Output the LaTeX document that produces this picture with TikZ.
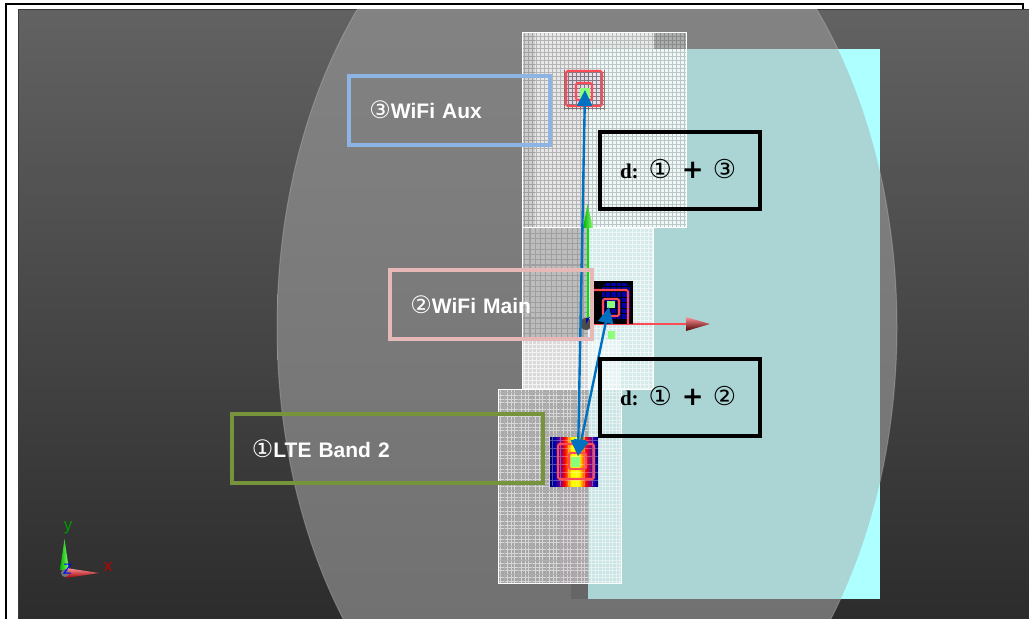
\documentclass[tikz,border=0pt]{standalone}
\usepackage{fontspec}
\setmainfont{Liberation Sans}
\newfontfamily\circfont{DejaVu Sans}
\newfontfamily\boxfont{Liberation Serif}
\usetikzlibrary{arrows.meta, positioning, calc}
\definecolor{FrameGray}{HTML}{3A3A3A}
\definecolor{ScreenTop}{HTML}{626262}
\definecolor{ScreenBottom}{HTML}{2C2C2C}
\definecolor{DomeTop}{HTML}{878787}
\definecolor{DomeBottom}{HTML}{6C6C6C}
\definecolor{BoardCyan}{HTML}{AEFFFF}
\definecolor{BoardTeal}{HTML}{ABD5D5}
\definecolor{ArrowBlue}{HTML}{0070C0}
\definecolor{RingRed}{HTML}{FF4B55}
\definecolor{SpotGreen}{HTML}{8CFF78}
\definecolor{AuxBlue}{HTML}{8EB4E3}
\definecolor{MainPink}{HTML}{E6B9B8}
\definecolor{BandGreen}{HTML}{77933C}
\newcommand{\circnum}[1]{{\fontsize{24bp}{24bp}\selectfont\circfont\mdseries #1}}
\newcommand{\distnum}[1]{{\fontsize{26bp}{26bp}\selectfont\circfont\mdseries #1}}
\newcommand{\distsum}[2]{\raisebox{3bp}{d:\hspace{10bp}\distnum{#1}\hspace{10bp}{\fontsize{26bp}{26bp}\selectfont\circfont\bfseries +}\hspace{9bp}\distnum{#2}}}
\pgfdeclarehorizontalshading{lteheat}{100bp}{
    color(0bp)=(black!60!blue); color(25bp)=(black!60!blue); color(30bp)=(blue!70!black);
    color(36bp)=(violet); color(40bp)=(red); color(44bp)=(orange); color(47bp)=(yellow);
    color(55bp)=(yellow); color(59bp)=(orange); color(62bp)=(red); color(67bp)=(violet);
    color(72bp)=(blue!70!black); color(75bp)=(black!60!blue); color(100bp)=(black!60!blue)}
\begin{document}
\begin{tikzpicture}[
    x=1bp, y=-1bp,
    font=\fontsize{21bp}{25bp}\selectfont\bfseries,
    labelbox/.style={draw, line width=4bp, text=white, align=left, inner xsep=20bp,
        inner ysep=0pt, minimum height=69bp, anchor=center},
    distbox/.style={draw=black, line width=4bp, text=black, align=left, inner xsep=20bp,
        inner ysep=0pt, minimum height=77bp, text width=120bp, anchor=center,
        font=\fontsize{21bp}{25bp}\selectfont\boxfont\bfseries},
    link/.style={{Triangle[length=16bp,width=15bp]}-{Triangle[length=16bp,width=15bp]},
        line width=2.4bp, ArrowBlue},
    ring/.style={draw=RingRed, line width=2.1bp, rounded corners=1.5bp},
    meshline/.style={line width=0.5bp},
]
\useasboundingbox (0,0) rectangle (1029,619);
\fill[white] (0,0) rectangle (1029,619);

% ---- marco exterior ----
\draw[black, line width=2bp] (6,619) -- (6,4) -- (1023,4) -- (1023,10);

% ---- pantalla ----
\shade[top color=ScreenTop, bottom color=ScreenBottom] (18,10) rectangle (1029,619);
\draw[FrameGray, line width=1bp] (18,619) -- (18,10) -- (1029,10);

% ---- cupula ----
\begin{scope}
    \clip (18,10) rectangle (1029,619);
    \shade[top color=DomeTop, bottom color=DomeBottom] (587,327) ellipse [x radius=310, y radius=473];
    \draw[white, opacity=0.2, line width=1bp] (587,327) ellipse [x radius=310, y radius=473];
\end{scope}

% ---- placa ----
\fill[BoardCyan] (588,49) rectangle (880,599);
\begin{scope}
    \clip (587,327) ellipse [x radius=310, y radius=473];
    \fill[BoardTeal] (588,49) rectangle (880,599);
\end{scope}
\fill[black!60] (571,583) rectangle (588,599);

% ---- mallas ----
% bloque inferior
\fill[white, opacity=0.36] (498,389) rectangle (621,583);
\draw[white, line width=0.4bp, opacity=0.55, xstep=3.5bp, ystep=3.5bp] (498,389) grid (621,583);
\draw[black, line width=0.8bp, opacity=0.18, xstep=14bp, ystep=14bp] (498,389) grid (588,583);
\draw[white, line width=0.8bp] (498,389) rectangle (621,583);
% bloque medio
\fill[white, opacity=0.5] (522,227) rectangle (653,389);
\fill[white, opacity=0.45] (522,340) rectangle (621,389);
\draw[black, line width=1.1bp, opacity=0.15, xstep=5.3bp, ystep=5.3bp] (522,227) grid (588,340);
\draw[white, meshline, opacity=0.6, xstep=4bp, ystep=4bp] (588,227) grid (653,389);
\draw[white, meshline, opacity=0.7, xstep=4bp, ystep=4bp] (522,340) grid (588,389);
\draw[white, line width=0.8bp] (522,227) rectangle (653,389);
% bloque superior
\fill[white, opacity=0.82] (522,32) rectangle (686,227);
\fill[black, opacity=0.1] (522,32) rectangle (535,227);
\draw[black, line width=0.7bp, opacity=0.22, xstep=4bp, ystep=4bp] (522,32) grid (588,227);
\draw[black!60!BoardTeal, line width=0.7bp, opacity=0.3, xstep=4bp, ystep=4bp] (588,32) grid (686,227);
\fill[black, opacity=0.25] (654,32) rectangle (686,49);
\draw[white, line width=0.8bp] (522,32) rectangle (686,227);

% ---- mapa LTE ----
\fill[violet!40, opacity=0.08] (560,486) rectangle (586,583);
\shade[shading=lteheat] (550,437) rectangle (598,486);
\draw[white, opacity=0.3, line width=0.8bp, xstep=8bp, ystep=8bp] (550,437) grid (598,486);
\draw[ring] (558,444) rectangle (594,479);
\draw[ring] (569,453) rectangle (586,469);
\fill[SpotGreen] (571,457) rectangle (580,467);

% ---- ejes ----
\draw[green!90!black, line width=2bp] (588,225) -- (588,324);
\shade[left color=green!70!black, right color=SpotGreen] (583,228) -- (587.5,204) -- (593,228) -- cycle;
\draw[RingRed, line width=1.4bp] (594,324) -- (690,324);
\shade[top color=RingRed!60!white, bottom color=black!70!red] (686,317) -- (710,324) -- (686,331) -- cycle;

% ---- mapa WiFi principal ----
\fill[black] (594,281) rectangle (633,324);
\fill[blue!65!black, rounded corners=6bp] (602,283) rectangle (630,320);
\draw[black, line width=0.8bp, xstep=5.5bp, ystep=5.5bp] (594,281) grid (633,324);
\draw[ring] (594,290) -- (628,290) -- (628,324);
\draw[ring] (603,299) rectangle (619,316);
\fill[SpotGreen] (607,301) rectangle (615,308);
\fill[SpotGreen] (608,331) rectangle (615,339);
\fill[black!70] (586,324) circle [radius=6];
\fill[blue!70!black] (586,318.5) arc [start angle=90, end angle=20, radius=5.5] -- (586,324) -- cycle;

% ---- mapa WiFi auxiliar ----
\fill[violet!25, opacity=0.4] (566,71) rectangle (602,106);
\draw[black, line width=0.7bp, opacity=0.35, xstep=4bp, ystep=4bp] (564,70) grid (604,110);
\fill[SpotGreen] (580,88) rectangle (590,100);
\draw[ring] (566,71) rectangle (602,106);
\draw[ring] (576,83) rectangle (592,100);

% ---- puntos de medida ----
\coordinate (lte) at (578,456);
\coordinate (wifimain) at (609,307);
\coordinate (wifiaux) at (585,90);
\draw[link] (lte) -- (wifiaux);
\draw[link] (lte) -- (wifimain);

% ---- etiquetas ----
\node[labelbox, draw=AuxBlue, text width=160.5bp] (auxbox) at (449.7,110.2) {\circnum{③}WiFi Aux};
\node[labelbox, draw=MainPink, text width=161.5bp] (mainbox) at (491.2,304.5) {\circnum{②}WiFi Main};
\node[labelbox, draw=BandGreen, text width=271.5bp] (ltebox) at (387.7,448.7) {\circnum{①}LTE Band 2};
\node[distbox] (dist13) at (680,170.5) {\distsum{①}{③}};
\node[distbox] (dist12) at (680,397) {\distsum{①}{②}};

% ---- triedro ----
\shade[left color=green!70!black, right color=SpotGreen] (60,570) -- (64.5,539) -- (69,570) -- cycle;
\shade[top color=RingRed!60!white, bottom color=red!60!black] (66,568) -- (99,573) -- (66,578) -- cycle;
\fill[black!55] (65,573) circle [radius=4];
\draw[blue, line width=1bp] (64,564) -- (71,564) (71,564) -- (64,573) -- (71,573);
\node[text=green!60!black, font=\fontsize{17bp}{17bp}\selectfont\mdseries, inner sep=0pt] (ylabel) at (68,528) {y};
\node[text=red!75!black, font=\fontsize{17bp}{17bp}\selectfont\mdseries, inner sep=0pt] (xlabel) at (108,567) {x};

\end{tikzpicture}
\end{document}
